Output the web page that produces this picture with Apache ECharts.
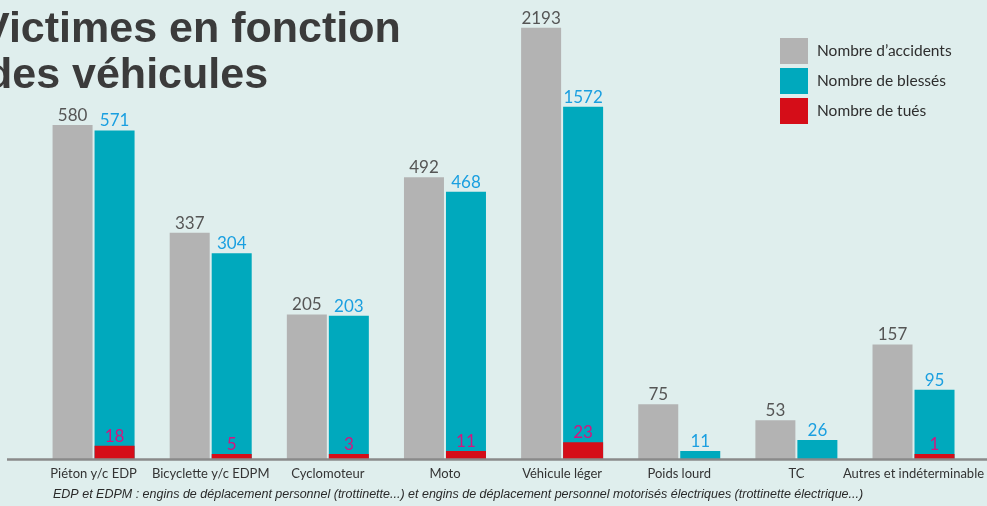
<!DOCTYPE html>
<html>
<head>
<meta charset="utf-8">
<script src="https://cdn.jsdelivr.net/npm/echarts@6/dist/echarts.min.js"></script>
<style>
html,body{margin:0;padding:0;background:#dfeeed;}
#c{width:987px;height:506px;}
</style>
</head>
<body>
<div id="c"></div>
<script>
const categories = ['Piéton y/c EDP', 'Bicyclette y/c EDPM', 'Cyclomoteur', 'Moto', 'Véhicule léger', 'Poids lourd', 'TC', 'Autres et indéterminable'];
const accidents = [580, 337, 205, 492, 2193, 75, 53, 157];
const blesses = [571, 304, 203, 468, 1572, 11, 26, 95];
const tues = [18, 5, 3, 11, 23, '-', '-', 1];
const seriesNames = ['Nombre d\u2019accidents', 'Nombre de blessés', 'Nombre de tués'];
const titleLines = ['Victimes en fonction', 'des véhicules'];
const footnote = 'EDP et EDPM : engins de déplacement personnel (trottinette...) et engins de déplacement personnel motorisés électriques (trottinette électrique...)';

const chart = echarts.init(document.getElementById('c'));
const valueLabel = (color) => ({
  show: true, position: 'top', distance: 1, color: color,
  fontFamily: 'Lato', fontSize: 17
});
chart.setOption({
  backgroundColor: '#dfeeed',
  animation: false,
  title: [
    { text: titleLines[0], left: -19, top: 9, padding: 0,
      textStyle: { fontFamily: 'Liberation Sans', fontWeight: 'bold', fontSize: 43, color: '#3b3b3b' } },
    { text: titleLines[1], left: -14, top: 55, padding: 0,
      textStyle: { fontFamily: 'Liberation Sans', fontWeight: 'bold', fontSize: 43, color: '#3b3b3b' } },
    { text: footnote, left: 53, top: 488, padding: 0,
      textStyle: { fontFamily: 'Liberation Sans', fontStyle: 'italic', fontWeight: 'normal', fontSize: 12.5, color: '#2a2a2a' } }
  ],
  legend: {
    data: seriesNames,
    orient: 'vertical', left: 780, top: 38, padding: 0,
    itemWidth: 28, itemHeight: 26, itemGap: 4, icon: 'rect',
    textStyle: { fontFamily: 'Lato', fontSize: 15.5, color: '#2e2e2e', padding: [0, 0, 0, 4] }
  },
  grid: { left: 35, right: 14, top: 22.7, bottom: 47, containLabel: false },
  xAxis: [
    { type: 'category', data: categories,
      axisLine: { show: false }, axisTick: { show: false },
      axisLabel: { fontFamily: 'Lato', fontSize: 13, color: '#333', margin: 8, interval: 0 } },
    { type: 'category', data: categories, show: false }
  ],
  yAxis: {
    type: 'value', min: 0, max: 2200,
    axisLine: { show: false }, axisTick: { show: false }, axisLabel: { show: false },
    splitLine: { show: false },
    breaks: [
      { start: 160, end: 338, gap: 150.7 },
      { start: 342, end: 466, gap: 49.3 },
      { start: 470, end: 578, gap: 87.7 },
      { start: 582, end: 1560, gap: 11 },
      { start: 1585, end: 2185, gap: 87 }
    ],
    breakArea: { show: false, itemStyle: { opacity: 0, borderWidth: 0, color: 'transparent', borderColor: 'transparent' } },
    breakLine: { show: false }
  },
  graphic: [
    { type: 'line', shape: { x1: 7, y1: 459.5, x2: 987, y2: 459.5 },
      style: { stroke: '#8a8a8a', lineWidth: 2.5 }, z: 10 }
  ],
  series: [
    { name: seriesNames[0], type: 'bar', xAxisIndex: 0, data: accidents,
      barWidth: 40, barGap: '5%', itemStyle: { color: '#b3b3b3' },
      label: valueLabel('#555555') },
    { name: seriesNames[1], type: 'bar', xAxisIndex: 0, data: blesses,
      barWidth: 40, barGap: '5%', itemStyle: { color: '#00a9bd' },
      label: valueLabel('#1a9fe0') },
    { name: 'spacer', type: 'bar', xAxisIndex: 1, data: categories.map(() => '-'),
      barWidth: 40, barGap: '5%', silent: true },
    { name: seriesNames[2], type: 'bar', xAxisIndex: 1, data: tues,
      barWidth: 40, barGap: '5%', barMinHeight: 5, z: 5, itemStyle: { color: '#d50d18' },
      label: valueLabel('#d4147f') }
  ]
});
</script>
</body>
</html>
